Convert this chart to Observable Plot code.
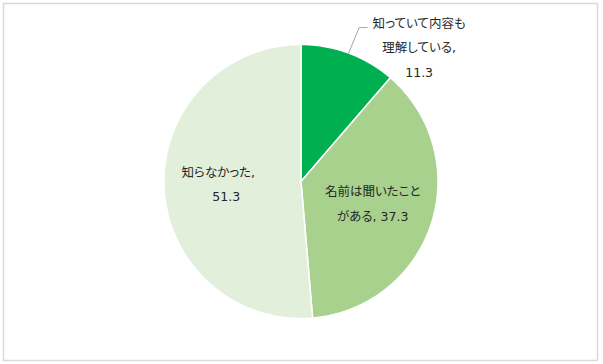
<!DOCTYPE html>
<html>
<head>
<meta charset="utf-8">
<script src="https://cdn.jsdelivr.net/npm/d3@7"></script>
<script src="https://cdn.jsdelivr.net/npm/@observablehq/plot@0.6"></script>
<style>
  html, body { margin: 0; padding: 0; background: #fff; }
  #chart text { font-feature-settings: "palt"; }
</style>
</head>
<body>
<div id="chart"></div>
<script>
// ---- data ----
const categories = ["知っていて内容も理解している", "名前は聞いたことがある", "知らなかった"];
const values = [11.3, 37.3, 51.3];
const colors = ["#00B050", "#A9D18E", "#E2EFDA"];
const labelLines = [
  ["知っていて内容も", "理解している,", "11.3"],
  ["名前は聞いたこと", "がある, 37.3"],
  ["知らなかった,", "51.3"]
];

// ---- layout ----
const W = 603, H = 364;
const cx = 300.5, cy = 181, R = 137;
const px = p => p / R; // pixels -> data units

const arcs = d3.pie().sort(null).value(d => d)(values);

// slice polygons (angle 0 = 12 o'clock, clockwise)
const slicePts = [];
arcs.forEach((a, i) => {
  const n = Math.max(4, Math.ceil((a.endAngle - a.startAngle) / 0.01));
  slicePts.push({cat: categories[i], x: 0, y: 0});
  for (let k = 0; k <= n; k++) {
    const t = a.startAngle + (a.endAngle - a.startAngle) * k / n;
    slicePts.push({cat: categories[i], x: Math.sin(t), y: Math.cos(t)});
  }
  slicePts.push({cat: categories[i], x: 0, y: 0});
});

// labels
const lineH = 24.5;
const textRows = [];
arcs.forEach((a, i) => {
  const mid = (a.startAngle + a.endAngle) / 2;
  const lines = labelLines[i];
  let bx, by; // label block center in data units
  if (i === 0) {
    bx = Math.sin(mid) + px(70.5);
    by = Math.cos(mid) + px(5);
  } else {
    const r = i === 1 ? 0.55 : 0.575;
    bx = r * Math.sin(mid);
    by = r * Math.cos(mid);
  }
  lines.forEach((t, j) => {
    const off = (j - (lines.length - 1) / 2) * lineH;
    let dx = 0;
    if (i === 2 && j === 0) dx = -4;
    if (i === 2 && j === 1) dx = 4;
    textRows.push({text: t, x: bx + px(dx), y: by - px(off)});
  });
});

// leader line for the outside label
const a0 = arcs[0];
const m0 = (a0.startAngle + a0.endAngle) / 2;
const ex = Math.sin(m0), ey = Math.cos(m0);
const leader = [
  {x: ex, y: ey},
  {x: ex + px(10.5), y: ey + px(25.5)},
  {x: ex + px(18.5), y: ey + px(25.5)}
];

const chart = Plot.plot({
  width: W,
  height: H,
  margin: 0,
  style: {background: "#fff", fontFamily: "'DejaVu Sans', 'Noto Sans CJK JP', sans-serif"},
  x: {domain: [px(-cx), px(W - cx)], axis: null},
  y: {domain: [px(-(H - cy)), px(cy)], axis: null},
  color: {domain: categories, range: colors},
  marks: [
    Plot.frame({stroke: "#d9d9d9", strokeWidth: 1.5, insetLeft: 3, insetTop: 3, insetRight: 6, insetBottom: 4}),
    Plot.line(slicePts, {x: "x", y: "y", z: "cat", fill: "cat", stroke: "#fff", strokeWidth: 1.5, strokeLinejoin: "round"}),
    Plot.line(leader, {x: "x", y: "y", stroke: "#a6a6a6", strokeWidth: 1}),
    Plot.text(textRows, {x: "x", y: "y", text: "text", fill: "#262626", fontSize: 12.5, textAnchor: "middle"})
  ]
});
document.getElementById("chart").append(chart);
</script>
</body>
</html>
